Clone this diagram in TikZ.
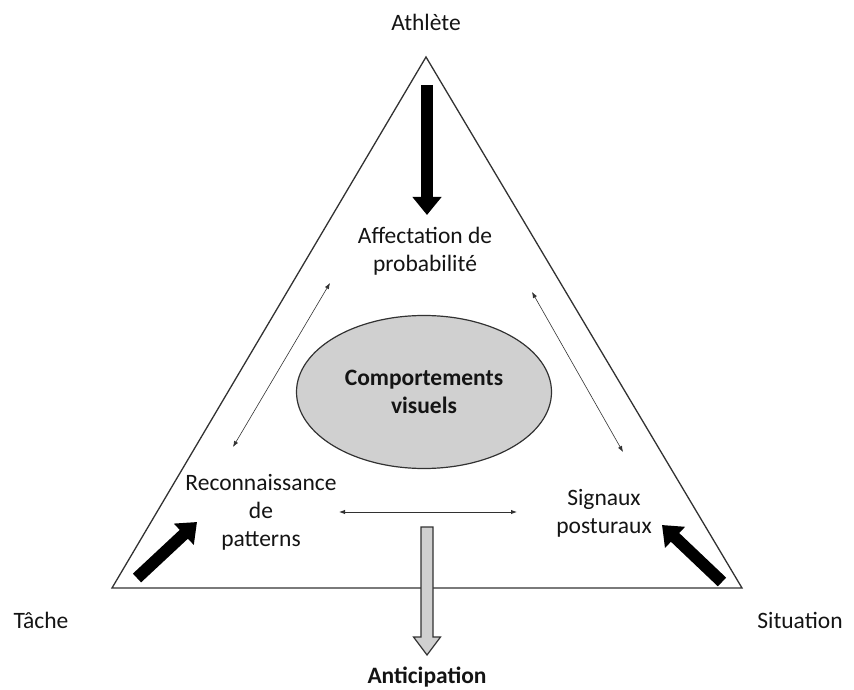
\documentclass[tikz,border=0pt]{standalone}
\usepackage{fontspec}
\setmainfont{Carlito}
\usetikzlibrary{arrows.meta,calc,shapes.geometric}
\definecolor{linegray}{RGB}{50,50,50}
\definecolor{fillgray}{RGB}{208,208,208}
\definecolor{txt}{RGB}{20,20,20}
\tikzset{
  lbl/.style={font=\fontsize{23.5}{28}\selectfont, text=txt, align=center, inner sep=0pt},
  bigarrow/.style={line width=12pt, black, -{Triangle[length=18pt,width=28pt]}},
  thinarrow/.style={line width=0.6pt, linegray, {Latex[length=6pt,width=4.5pt]}-{Latex[length=6pt,width=4.5pt]}},
}
\begin{document}
\begin{tikzpicture}[x=1pt,y=1pt]
\useasboundingbox (0,0) rectangle (854,689);
% triangle
\coordinate (top) at (426,632);
\coordinate (bl) at (112,101);
\coordinate (br) at (742,101);
\draw[linegray, line width=1.3pt, line join=miter] (top) -- (bl) -- (br) -- cycle;
% corner labels
\node[lbl] (athlete) at (426,667) {Athlète};
\node[lbl] (tache) at (41,69) {Tâche};
\node[lbl] (situation) at (800,69) {Situation};
\node[lbl, font=\fontsize{23.5}{28}\selectfont\bfseries] (antic) at (427,12) {Anticipation};
% inner labels
\node[lbl] (affect) at (425,437.5) {Affectation de\\probabilité};
\node[lbl] (recon) at (261,177) {Reconnaissance\\de\\patterns};
\node[lbl] (signaux) at (604,175.5) {Signaux\\posturaux};
% ellipse
\node[ellipse, draw=linegray, line width=1.2pt, fill=fillgray, minimum width=255pt, minimum height=153pt, inner sep=0pt, font=\fontsize{23.5}{28}\selectfont\bfseries, text=txt, align=center] (ell) at (424,297) {Comportements\\visuels};
% big black arrows
\coordinate (a1s) at (427,604);
\coordinate (a1e) at (427,474);
\coordinate (a2s) at (137,111);
\coordinate (a2e) at (197,167);
\coordinate (a3s) at (722,107);
\coordinate (a3e) at (662,164);
\draw[bigarrow] (a1s) -- (a1e);
\draw[bigarrow] (a2s) -- (a2e);
\draw[bigarrow] (a3s) -- (a3e);
% grey arrow to anticipation
\coordinate (gs) at (427,162);
\coordinate (ge) at (427,34);
\draw[linegray, line width=1.2pt, fill=fillgray, line join=miter]
  ($(gs)+(-6,0)$) -- ($(ge)+(-6,18)$) -- ($(ge)+(-13.5,18)$) -- (ge)
  -- ($(ge)+(13.5,18)$) -- ($(ge)+(6,18)$) -- ($(gs)+(6,0)$) -- cycle;
% thin double arrows
\coordinate (d1a) at (330,406);
\coordinate (d1b) at (233,242);
\coordinate (d2a) at (532,397);
\coordinate (d2b) at (623,237);
\coordinate (d3a) at (339,177);
\coordinate (d3b) at (517,177);
\draw[thinarrow] (d1a) -- (d1b);
\draw[thinarrow] (d2a) -- (d2b);
\draw[thinarrow, line width=0.9pt] (d3a) -- (d3b);
\end{tikzpicture}
\end{document}
